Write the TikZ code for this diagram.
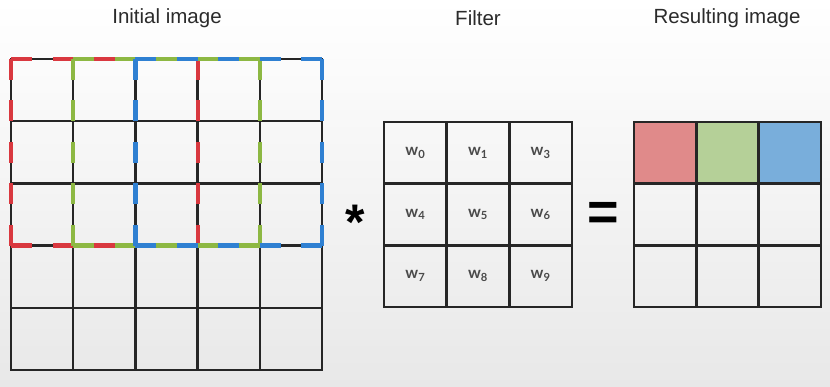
\documentclass[tikz,border=0pt]{standalone}
\usepackage{fontspec}
\setmainfont{Liberation Sans}
\newfontfamily\wfont{Lato}
\usetikzlibrary{calc}
\definecolor{gridc}{HTML}{262626}
\definecolor{txtc}{HTML}{2B2B2B}
\definecolor{wtxt}{HTML}{4A4A4A}
\definecolor{dred}{HTML}{D9383F}
\definecolor{dgreen}{HTML}{8DB843}
\definecolor{dblue}{HTML}{2F80D2}
\definecolor{fred}{HTML}{E08A8A}
\definecolor{fgreen}{HTML}{B5D098}
\definecolor{fblue}{HTML}{79AEDB}
\tikzset{
  cellA/.style={draw=gridc, line width=2.4pt, minimum size=62.2pt, inner sep=0pt, outer sep=0pt},
  cellF/.style={draw=gridc, line width=2.4pt, minimum width=62.67pt, minimum height=61.67pt, inner sep=0pt, outer sep=0pt, font=\wfont\bfseries\fontsize{16}{18}\selectfont, text=wtxt},
  cellR/.style={draw=gridc, line width=2.4pt, minimum width=62.33pt, minimum height=61.67pt, inner sep=0pt, outer sep=0pt},
  dashbox/.style={line width=4.2pt, dash pattern=on 21pt off 20.5pt},
  title/.style={font=\fontsize{20.5}{23}\selectfont, text=txtc},
  opsym/.style={font=\bfseries\fontsize{50}{54}\selectfont, text=black, inner sep=0pt},
  eqsym/.style={font=\bfseries\fontsize{54}{58}\selectfont, text=black, inner sep=0pt}
}
\begin{document}
\begin{tikzpicture}[x=1pt,y=-1pt]
\useasboundingbox (0,0) rectangle (830,387);
\shade[top color=white, middle color=gray!4, bottom color=gray!18] (0,0) rectangle (830,387);
% titles
\node[title] (t1) at (167,18) {Initial image};
\node[title] (t2) at (478,18) {Filter};
\node[title] (t3) at (727,18) {Resulting image};
% initial image 5x5
\foreach \i in {0,...,4}{
  \foreach \j in {0,...,4}{
    \node[cellA] (a\i\j) at ({11+31.1+62.2*\j},{59+31.1+62.2*\i}) {};
  }
}
% dashed windows
\foreach \c/\s/\e in {dred/0/2, dgreen/1/3, dblue/2/4}{
  \draw[dashbox, draw=\c]
    (a0\s.north west) -- (a0\e.north east)
    (a0\e.north east) -- (a2\e.south east)
    (a0\s.north west) -- (a2\s.south west)
    (a2\s.south west) -- (a2\e.south east);
}
% filter 3x3
\node[cellF] (f00) at ({384+31.33},{122+30.83}) {w\textsubscript{0}};
\node[cellF] (f01) at ({384+31.33+62.67},{122+30.83}) {w\textsubscript{1}};
\node[cellF] (f02) at ({384+31.33+125.33},{122+30.83}) {w\textsubscript{3}};
\node[cellF] (f10) at ({384+31.33},{122+30.83+61.67}) {w\textsubscript{4}};
\node[cellF] (f11) at ({384+31.33+62.67},{122+30.83+61.67}) {w\textsubscript{5}};
\node[cellF] (f12) at ({384+31.33+125.33},{122+30.83+61.67}) {w\textsubscript{6}};
\node[cellF] (f20) at ({384+31.33},{122+30.83+123.33}) {w\textsubscript{7}};
\node[cellF] (f21) at ({384+31.33+62.67},{122+30.83+123.33}) {w\textsubscript{8}};
\node[cellF] (f22) at ({384+31.33+125.33},{122+30.83+123.33}) {w\textsubscript{9}};
% result 3x3
\foreach \i in {0,1,2}{
  \foreach \j in {0,1,2}{
    \node[cellR] (r\i\j) at ({634+31.17+62.33*\j},{122+30.83+61.67*\i}) {};
  }
}
\node[cellR, fill=fred] at (r00) {};
\node[cellR, fill=fgreen] at (r01) {};
\node[cellR, fill=fblue] at (r02) {};
% operators
\node[opsym] (star) at (355,222) {*};
\node[eqsym] (eq) at (603,216) {=};
\end{tikzpicture}
\end{document}
